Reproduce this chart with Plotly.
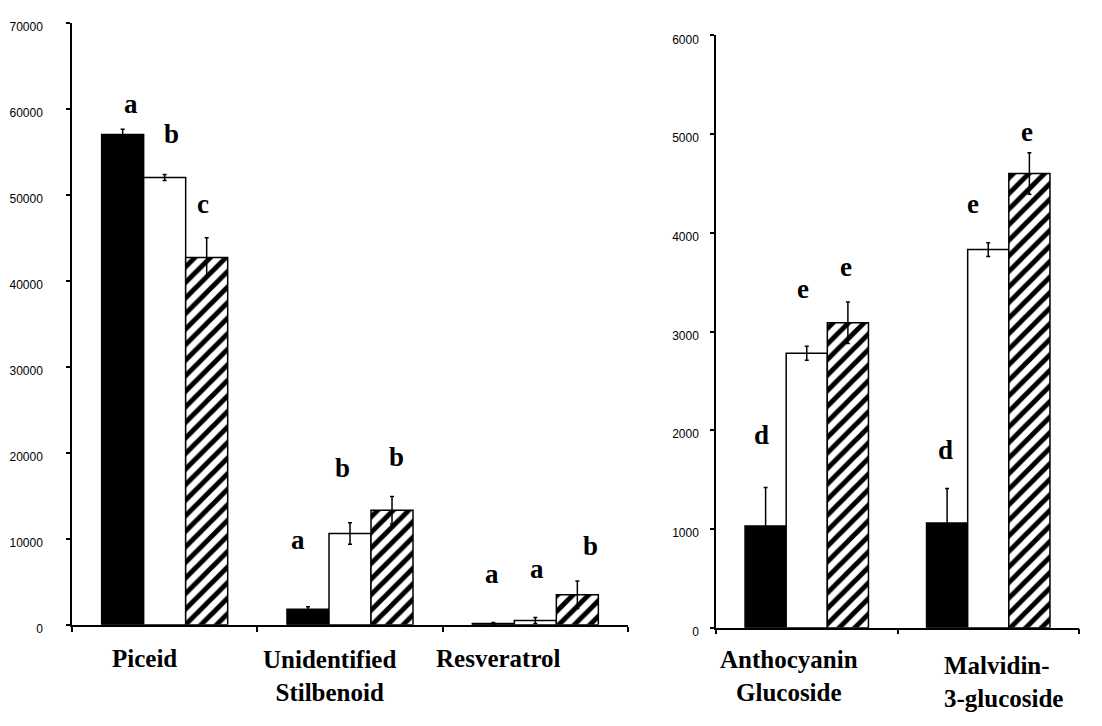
import plotly.graph_objects as go

# Stilbenoid compounds (left panel)
stil_cats = ["Piceid", "Unidentified Stilbenoid", "Resveratrol"]
stil_black = [57000, 1800, 150]
stil_white = [52000, 10600, 500]
stil_hatch = [42700, 13300, 3500]
stil_black_err = [600, 300, 100]
stil_white_err = [350, 1250, 350]
stil_hatch_err = [2300, 1600, 1600]
stil_letters = [["a", "b", "c"], ["a", "b", "b"], ["a", "a", "b"]]
stil_letter_y = [[60500, 57100, 48900], [9800, 18200, 19500], [5900, 6500, 9200]]

# Anthocyanins (right panel)
anth_cats = ["Anthocyanin Glucoside", "Malvidin-3-glucoside"]
anth_black = [1030, 1060]
anth_white = [2780, 3830]
anth_hatch = [3090, 4600]
anth_black_err = [390, 350]
anth_white_err = [70, 70]
anth_hatch_err = [210, 210]
anth_letters = [["d", "e", "e"], ["d", "e", "e"]]
anth_letter_y = [[1950, 3430, 3650], [1800, 4290, 5020]]

# horizontal nudges (px) of the significance letters
stil_letter_dx = [[-34, 7, 38], [-52, -8, 46], [-43, 2, 55]]
anth_letter_dx = [[-45, -4, 39], [-43, -15, 39]]

SERIF = "Liberation Serif, Times New Roman, serif"
SANS = "Liberation Sans, Arial, sans-serif"
W, H = 1102, 726

fig = go.Figure()

def add_bars(cats, vals, errs, xa, ya, style):
    if style == "black":
        marker = dict(color="black", line=dict(color="black", width=1.5))
    elif style == "white":
        marker = dict(color="white", line=dict(color="black", width=1.5))
    else:
        marker = dict(color="white", line=dict(color="black", width=1.5),
                      pattern=dict(shape="/", fgcolor="#000000", bgcolor="#ffffff",
                                   fgopacity=1, fillmode="replace",
                                   size=11, solidity=0.45))
    fig.add_trace(go.Bar(
        x=cats, y=vals, xaxis=xa, yaxis=ya, marker=marker, offsetgroup=style,
        error_y=dict(type="data", array=errs, color="black", thickness=1.5, width=2),
        showlegend=False,
    ))

for style, v, e in [("black", stil_black, stil_black_err),
                    ("white", stil_white, stil_white_err),
                    ("hatch", stil_hatch, stil_hatch_err)]:
    add_bars(stil_cats, v, e, "x", "y", style)

for style, v, e in [("black", anth_black, anth_black_err),
                    ("white", anth_white, anth_white_err),
                    ("hatch", anth_hatch, anth_hatch_err)]:
    add_bars(anth_cats, v, e, "x2", "y2", style)

annotations = []
for cats, letters, ys, dxs, xr, yr in [
    (stil_cats, stil_letters, stil_letter_y, stil_letter_dx, "x", "y"),
    (anth_cats, anth_letters, anth_letter_y, anth_letter_dx, "x2", "y2"),
]:
    for c, ls, yv, dx in zip(cats, letters, ys, dxs):
        for l, y, s in zip(ls, yv, dx):
            annotations.append(dict(
                x=c, y=y, xref=xr, yref=yr, text=f"<b>{l}</b>", showarrow=False,
                xshift=s, font=dict(family=SERIF, size=27, color="black"),
            ))

# category names below the axes
cat_labels = [
    ("x", stil_cats[0], "Piceid", -20, 668, "center"),
    ("x", stil_cats[1], "Unidentified<br>Stilbenoid", -21, 686, "center"),
    ("x", stil_cats[2], "Resveratrol", -37, 668, "center"),
    ("x2", anth_cats[0], "Anthocyanin<br>Glucoside", -18, 686, "center"),
    ("x2", anth_cats[1], "Malvidin-<br>3-glucoside", -46, 692, "left"),
]
for xr, c, txt, dx, ypx, anchor in cat_labels:
    annotations.append(dict(
        x=c, y=1 - ypx / H, xref=xr, yref="paper", text=f"<b>{txt}</b>",
        showarrow=False, xshift=dx, xanchor=anchor, yanchor="middle", align=anchor,
        font=dict(family=SERIF, size=25, color="black"),
    ))

axis_common = dict(showgrid=False, zeroline=False, showline=True,
                   linecolor="black", linewidth=1.5, ticks="outside",
                   tickcolor="black", tickwidth=1.5)

fig.update_layout(
    width=W, height=H,
    margin=dict(l=0, r=0, t=0, b=0),
    paper_bgcolor="white", plot_bgcolor="white",
    barmode="group", bargap=0.32, bargroupgap=0,
    annotations=annotations,
    xaxis=dict(domain=[72 / W, 628 / W], anchor="y", type="category",
               range=[-0.5, 2.5], tickson="boundaries", ticklen=5,
               showticklabels=False, **axis_common),
    yaxis=dict(domain=[(H - 634) / H, (H - 20) / H], anchor="x",
               range=[0, 70000], dtick=10000, tickformat="d", ticklen=4,
               ticklabelstandoff=21, ticklabelshift=4,
               tickfont=dict(family=SANS, size=12, color="black"), **axis_common),
    xaxis2=dict(domain=[716 / W, 1079 / W], anchor="y2", type="category",
                range=[-0.5, 1.5], tickson="boundaries", ticklen=5,
                showticklabels=False, **axis_common),
    yaxis2=dict(domain=[(H - 637) / H, (H - 33) / H], anchor="x2",
                range=[0, 6000], dtick=1000, tickformat="d", ticklen=4,
                ticklabelstandoff=9, ticklabelshift=4,
                tickfont=dict(family=SANS, size=12, color="black"), **axis_common),
)

fig.write_html("out.html")
